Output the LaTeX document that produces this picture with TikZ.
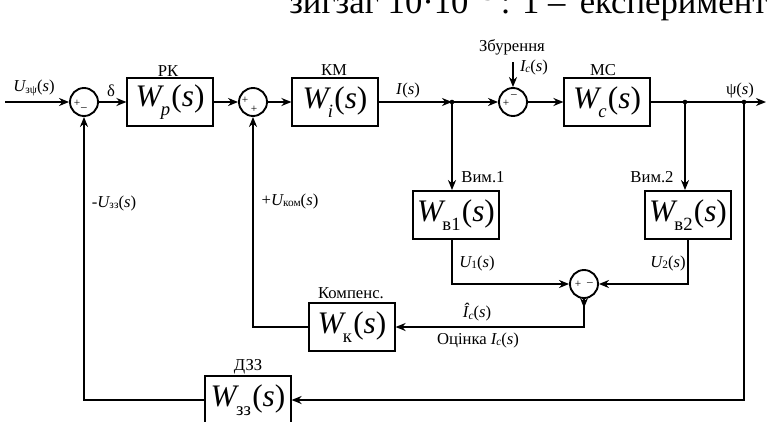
\documentclass[tikz,border=0pt]{standalone}
\usepackage{fontspec}
\setmainfont{Liberation Serif}
\usetikzlibrary{arrows.meta,calc}
\newcommand{\Wtf}[1]{\textit{W}\kern-0.1em\raisebox{-0.28em}{\fontsize{14}{14}\selectfont#1}\kern0.04em(\textit{s})}
\newcommand{\sgl}[2]{\textit{#1}\kern-0.05em\raisebox{-0.25ex}{\fontsize{8.5}{8.5}\selectfont#2}(\textit{s})}

\begin{document}
\begin{tikzpicture}[x=0.75pt,y=-0.75pt,
  blk/.style={draw,line width=1.4pt,minimum width=64pt,minimum height=36pt,inner sep=0pt,font=\fontsize{23.5}{23.5}\selectfont},
  sumc/.style={draw,circle,line width=1.4pt,minimum size=21pt,inner sep=0pt},
  sgn/.style={inner sep=0pt,font=\fontsize{8.5}{8.5}\selectfont},
  lbl/.style={inner sep=1pt,font=\fontsize{12.5}{14}\selectfont},
  sig/.style={line width=1.4pt,-{Stealth[length=7.5pt,width=6pt,inset=2.4pt]}},
  wire/.style={line width=1.4pt}]
\clip (0,0) rectangle (767,421);
\fill[white] (0,0) rectangle (767,421);
% cut off heading of the page
\node[anchor=base west,inner sep=0pt,font=\fontsize{26}{26}\selectfont] (hdr) at (289,13)
  {зигзаг 10·10\textsuperscript{−3}\,: 1 – \,експериментальна};

% forward path
\coordinate (in) at (5,102);
\node[sumc] (s1) at (84,102) {};
\node[blk] (rk) at (170,102) {\Wtf{\textit{p}}};
\node[sumc] (s2) at (253,102) {};
\node[blk] (km) at (335,102) {\Wtf{\textit{i}}};
\coordinate (j1) at (452,102);
\node[sumc] (s3) at (513,102) {};
\coordinate (dist) at (513,62);
\node[blk] (mc) at (607,102) {\Wtf{\textit{c}}};
\coordinate (j2) at (685,102);
\coordinate (j3) at (744,102);
\coordinate (out) at (766,102);

% measuring and feedback blocks
\node[blk] (v1) at (456,215) {\Wtf{в1}};
\node[blk] (v2) at (688,215) {\Wtf{в2}};
\node[sumc] (s4) at (584,284) {};
\node[blk] (kp) at (352,327) {\Wtf{к}};
\node[blk] (dz) at (248,400) {\Wtf{зз}};

% signs
\node[sgn] (s1p) at ($(s1)+(-7,1)$) {+};
\node[sgn] (s1m) at ($(s1)+(0,7)$) {–};
\node[sgn] (s2p) at ($(s2)+(-8,-2)$) {+};
\node[sgn] (s2q) at ($(s2)+(1,7)$) {+};
\node[sgn] (s3p) at ($(s3)+(-7,1)$) {+};
\node[sgn] (s3m) at ($(s3)+(1,-6)$) {–};
\node[sgn] (s4p) at ($(s4)+(-6,0)$) {+};
\node[sgn] (s4m) at ($(s4)+(6,0)$) {–};

% connectors
\draw[sig] (in) -- (s1);
\draw[sig] (s1) -- (rk);
\draw[sig] (rk) -- (s2);
\draw[sig] (s2) -- (km);
\draw[sig] (km) -- (j1);
\draw[sig] (j1) -- (s3);
\draw[sig] (dist) -- (s3);
\draw[sig] (s3) -- (mc);
\draw[sig] (mc) -- (out);
\draw[sig] (j1) -- (j1 |- v1.north);
\draw[sig] (j2) -- (j2 |- v2.north);
\draw[sig] (v1.south -| j1) |- (s4);
\draw[sig] (v2.south) |- (s4);
\draw[sig] (s4.south) -- ++(0,9);
\draw[sig] (s4.south) |- (kp);
\draw[sig] (kp) -| (s2);
\draw[sig] (j3) |- (dz);
\draw[sig] (dz) -| (s1);
\fill (j1) circle (2.3);
\fill (j2) circle (2.3);
\fill (j3) circle (2.3);

% labels
\node[lbl] (lin) at (34,88) {\sgl{U}{зψ}};
\node[lbl] (ldelta) at (111,91) {δ};
\node[lbl] (lrk) at (168,71) {РК};
\node[lbl] (lkm) at (334,70) {КМ};
\node[lbl] (li) at (408,90) {\textit{I}(\textit{s})};
\node[lbl] (lzb) at (512,47) {Збурення};
\node[lbl] (lic) at (534,67) {\sgl{I}{\textit{c}}};
\node[lbl] (lmc) at (603,70) {МС};
\node[lbl] (lpsi) at (740,90) {ψ(\textit{s})};
\node[lbl] (lv1) at (483,177) {Вим.1};
\node[lbl] (lv2) at (652,177) {Вим.2};
\node[lbl] (lu1) at (477,263) {\sgl{U}{1}};
\node[lbl] (lu2) at (668,263) {\sgl{U}{2}};
\node[lbl] (lhat) at (477,312) {\sgl{Î}{\textit{c}}};
\node[lbl] (lest) at (478,340) {Оцінка \sgl{I}{\textit{c}}};
\node[lbl] (lkp) at (351,293) {Компенс.};
\node[lbl] (lukom) at (290,201) {+\sgl{U}{ком}};
\node[lbl] (luzz) at (114,203) {-\sgl{U}{зз}};
\node[lbl] (ldz) at (248,367) {ДЗЗ};
\end{tikzpicture}
\end{document}
